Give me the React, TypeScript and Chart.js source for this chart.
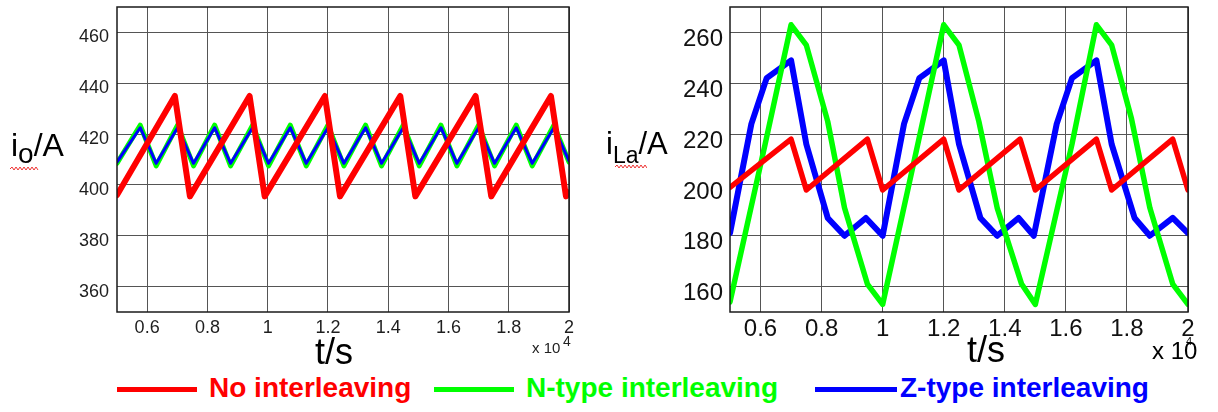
import React, { useEffect, useRef } from 'react';
import { Chart, registerables } from 'chart.js';

Chart.register(...registerables);

// ---------- shared axis data ----------
const xTickValues = [0.6, 0.8, 1.0, 1.2, 1.4, 1.6, 1.8, 2.0];
const xTickLabels = ['0.6', '0.8', '1', '1.2', '1.4', '1.6', '1.8', '2'];
const seriesNames = ['No interleaving', 'N-type interleaving', 'Z-type interleaving'];

// ---------- left chart: i_o ----------
const ioYTicks = [360, 380, 400, 420, 440, 460];
const ioNoX = [0.5, 0.692, 0.742, 0.94, 0.99, 1.19, 1.24, 1.44, 1.49, 1.69, 1.742, 1.94, 1.99, 2.0];
const ioNoY = [396, 435, 395.5, 435, 395.5, 435, 395.5, 435, 395.5, 435, 395.5, 435, 395.5, 397];
const ioNX = [0.5, 0.577, 0.63, 0.701, 0.754, 0.824, 0.877, 0.95, 1.003, 1.075, 1.128, 1.2, 1.253, 1.325, 1.378, 1.45, 1.503, 1.575, 1.628, 1.7, 1.753, 1.825, 1.878, 1.95, 2.0];
const ioNY = [408.5, 423.5, 407.5, 423.5, 407.5, 423.5, 407.5, 423.5, 407.5, 423.5, 407.5, 423.5, 407.5, 423.5, 407.5, 423.5, 407.5, 423.5, 407.5, 423.5, 407.5, 423.5, 407.5, 423.5, 409];
const ioZX = ioNX;
const ioZY = [409, 422.5, 408.5, 422.5, 408.5, 422.5, 408.5, 422.5, 408.5, 422.5, 408.5, 422.5, 408.5, 422.5, 408.5, 422.5, 408.5, 422.5, 408.5, 422.5, 408.5, 422.5, 408.5, 422.5, 409.5];

// ---------- right chart: i_La ----------
const iLaYTicks = [160, 180, 200, 220, 240, 260];
const iLaNoX = [0.5, 0.7, 0.75, 0.95, 1.0, 1.2, 1.25, 1.45, 1.5, 1.7, 1.75, 1.95, 2.0];
const iLaNoY = [199, 218, 198, 218, 198, 218, 198, 218, 198, 218, 198, 218, 198];
const iLaNX = [0.5, 0.615, 0.7, 0.75, 0.82, 0.875, 0.95, 1.0, 1.115, 1.2, 1.25, 1.315, 1.375, 1.455, 1.5, 1.62, 1.7, 1.75, 1.815, 1.875, 1.95, 2.0];
const iLaNY = [154, 216, 263, 255, 225, 191, 161, 153, 216, 263, 255, 225, 191, 161, 153, 216, 263, 255, 226, 191, 161, 153];
const iLaZX = [0.5, 0.57, 0.62, 0.7, 0.75, 0.82, 0.875, 0.945, 1.0, 1.07, 1.12, 1.2, 1.25, 1.32, 1.375, 1.445, 1.495, 1.57, 1.62, 1.7, 1.75, 1.825, 1.875, 1.95, 2.0];
const iLaZY = [181, 224, 242, 249, 216, 187, 180, 187, 180, 224, 242, 249, 216, 187, 180, 187, 180, 224, 242, 249, 216, 187, 180, 187, 181];

const RED = '#ff0000';
const GREEN = '#00ff00';
const BLUE = '#0000ff';
const FONT = '"Liberation Sans", Arial, Helvetica, sans-serif';

function ds(label: string, xs: number[], ys: number[], color: string, width: number, order: number) {
  return {
    label,
    data: xs.map((x, i) => ({ x, y: ys[i] })),
    borderColor: color,
    backgroundColor: color,
    borderWidth: width,
    pointRadius: 0,
    tension: 0,
    fill: false,
    borderJoinStyle: 'round' as const,
    borderCapStyle: 'round' as const,
    order,
  };
}

const framePlugin = {
  id: 'frame',
  afterDraw(chart: any) {
    const { ctx, chartArea: a } = chart;
    ctx.save();
    ctx.strokeStyle = '#1a1a1a';
    ctx.lineWidth = 1.5;
    ctx.strokeRect(a.left, a.top, a.right - a.left, a.bottom - a.top);
    ctx.restore();
  },
};

function makeConfig(opts: {
  datasets: any[];
  yMin: number; yMax: number; yTicks: number[];
  yWidth: number; padRight: number;
  tickSize: number; tickColor: string; yShift: string; yPad: number; xPad: number;
}) {
  return {
    type: 'line' as const,
    data: { datasets: opts.datasets },
    plugins: [framePlugin],
    options: {
      animation: false as const,
      responsive: false,
      events: [],
      layout: { padding: { top: 7, right: opts.padRight, left: 0, bottom: 0 } },
      plugins: { legend: { display: false }, tooltip: { enabled: false } },
      scales: {
        x: {
          type: 'linear' as const,
          min: 0.5,
          max: 2,
          afterBuildTicks: (s: any) => { s.ticks = xTickValues.map((v) => ({ value: v })); },
          afterFit: (s: any) => { s.height = 28; s.paddingLeft = 0; s.paddingRight = 0; },
          grid: { color: '#555', lineWidth: 1, drawTicks: false },
          border: { display: false },
          ticks: {
            autoSkip: false,
            maxRotation: 0,
            padding: opts.xPad,
            color: opts.tickColor,
            font: { family: FONT, size: opts.tickSize },
            callback: (_v: any, i: number) => xTickLabels[i],
          },
        },
        y: {
          type: 'linear' as const,
          min: opts.yMin,
          max: opts.yMax,
          afterBuildTicks: (s: any) => { s.ticks = opts.yTicks.map((v) => ({ value: v })); },
          afterFit: (s: any) => { s.width = opts.yWidth; s.paddingTop = 0; s.paddingBottom = 0; },
          grid: { color: '#555', lineWidth: 1, drawTicks: false },
          border: { display: false },
          ticks: {
            autoSkip: false,
            padding: opts.yPad,
            color: opts.tickColor,
            font: { family: FONT, size: opts.tickSize, lineHeight: opts.yShift },
            callback: (v: any) => ['', String(v)],
          },
        },
      },
    },
  };
}

function Squiggle({ left, top, width }: { left: number; top: number; width: number }) {
  let d = `M0 2`;
  for (let x = 0; x < width; x += 4) d += ` L${x + 2} 0 L${x + 4} 3`;
  return (
    <svg style={{ position: 'absolute', left, top }} width={width + 2} height={5}>
      <path d={d} stroke="#ee3333" strokeWidth={1} fill="none" />
    </svg>
  );
}

const txt = (extra: React.CSSProperties): React.CSSProperties => ({
  position: 'absolute',
  whiteSpace: 'nowrap',
  lineHeight: 1,
  fontFamily: FONT,
  color: '#000',
  ...extra,
});

export default function App() {
  const leftRef = useRef<HTMLCanvasElement>(null);
  const rightRef = useRef<HTMLCanvasElement>(null);

  useEffect(() => {
    const left = new Chart(leftRef.current as HTMLCanvasElement, makeConfig({
      datasets: [
        ds(seriesNames[0], ioNoX, ioNoY, RED, 6, 0),
        ds(seriesNames[1], ioNX, ioNY, GREEN, 5, 2),
        ds(seriesNames[2], ioZX, ioZY, BLUE, 3, 1),
      ],
      yMin: 350, yMax: 470, yTicks: ioYTicks,
      yWidth: 117, padRight: 31,
      tickSize: 18, tickColor: '#1e1e1e', yShift: '10px', yPad: 8, xPad: 5,
    }) as any);
    const right = new Chart(rightRef.current as HTMLCanvasElement, makeConfig({
      datasets: [
        ds(seriesNames[0], iLaNoX, iLaNoY, RED, 5.5, 0),
        ds(seriesNames[1], iLaNX, iLaNY, GREEN, 5.5, 1),
        ds(seriesNames[2], iLaZX, iLaZY, BLUE, 6, 2),
      ],
      yMin: 150, yMax: 270, yTicks: iLaYTicks,
      yWidth: 130, padRight: 30,
      tickSize: 24, tickColor: '#111', yShift: '14px', yPad: 7, xPad: 3,
    }) as any);
    return () => { left.destroy(); right.destroy(); };
  }, []);

  return (
    <div style={{ position: 'absolute', left: 0, top: 0, width: 1218, height: 412, background: '#fff', overflow: 'hidden' }}>
      <canvas ref={leftRef} width={600} height={340} style={{ position: 'absolute', left: 0, top: 0, width: 600, height: 340 }} />
      <canvas ref={rightRef} width={618} height={340} style={{ position: 'absolute', left: 600, top: 0, width: 618, height: 340 }} />

      {/* left axis titles */}
      <div style={txt({ left: 11, top: 129, fontSize: 32 })}>
        i<span style={{ position: 'relative', top: 7, fontSize: 28 }}>o</span>/A
      </div>
      <Squiggle left={10} top={167} width={27} />
      <div style={txt({ left: 315, top: 334, fontSize: 36 })}>t/s</div>
      <div style={txt({ left: 532, top: 340, fontSize: 15, color: '#222' })}>x 10</div>
      <div style={txt({ left: 563, top: 334, fontSize: 14, color: '#222' })}>4</div>

      {/* right axis titles */}
      <div style={txt({ left: 606, top: 128, fontSize: 31 })}>
        i<span style={{ position: 'relative', top: 9, fontSize: 23 }}>La</span>/A
      </div>
      <Squiggle left={615} top={165} width={30} />
      <div style={txt({ left: 967, top: 332, fontSize: 36 })}>t/s</div>
      <div style={txt({ left: 1152, top: 339, fontSize: 24 })}>x 10</div>
      <div style={txt({ left: 1186, top: 336, fontSize: 11 })}>4</div>

      {/* legend */}
      <div style={{ position: 'absolute', left: 117, top: 387, width: 80, height: 5, background: RED }} />
      <div style={txt({ left: 209, top: 374, fontSize: 28, fontWeight: 'bold', color: RED })}>{seriesNames[0]}</div>
      <div style={{ position: 'absolute', left: 434, top: 387, width: 80, height: 5, background: GREEN }} />
      <div style={txt({ left: 526, top: 374, fontSize: 28, fontWeight: 'bold', color: GREEN })}>{seriesNames[1]}</div>
      <div style={{ position: 'absolute', left: 815, top: 387, width: 82, height: 5, background: BLUE }} />
      <div style={txt({ left: 900, top: 374, fontSize: 28, fontWeight: 'bold', color: BLUE })}>{seriesNames[2]}</div>
    </div>
  );
}
